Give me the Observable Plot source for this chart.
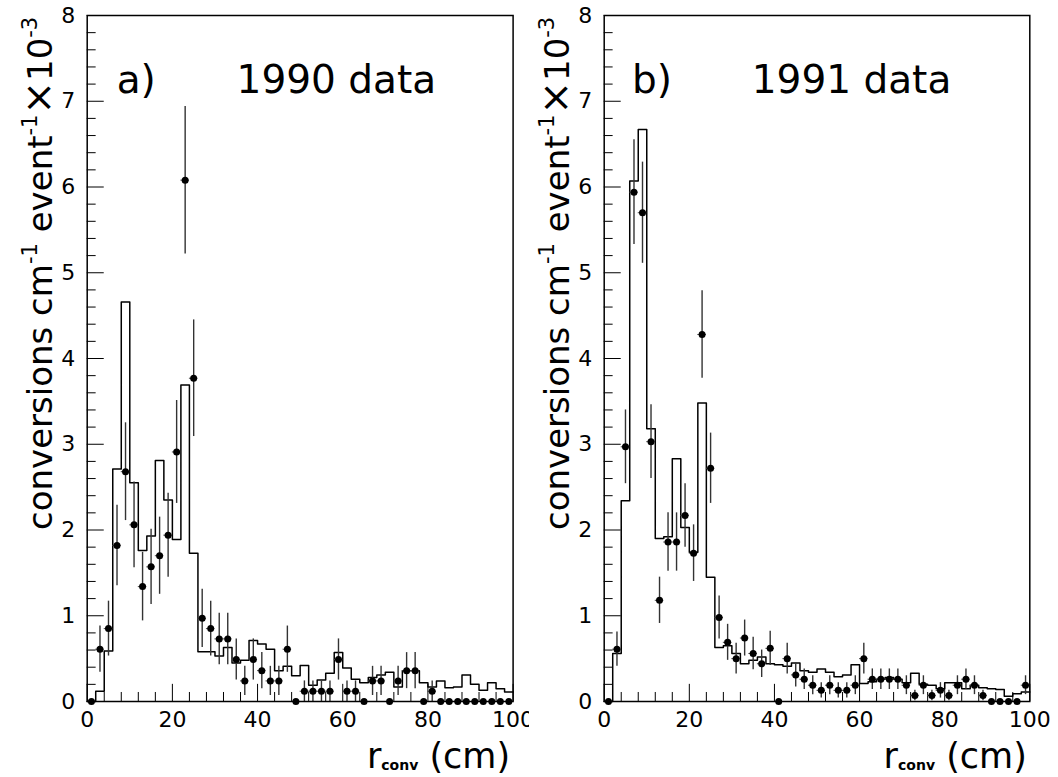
<!DOCTYPE html>
<html><head><meta charset="utf-8">
<script src="https://cdn.jsdelivr.net/npm/d3@7"></script>
<script src="https://cdn.jsdelivr.net/npm/@observablehq/plot@0.6"></script>
<style>
body{margin:0;background:#fff;}
#wrap{position:relative;width:1058px;height:777px;display:flex;background:#fff;}
svg{display:block}
</style></head><body><div id="wrap"></div>
<script>
// radius bin centres (cm), bins are 2 cm wide
const rCentres = [1,3,5,7,9,11,13,15,17,19,21,23,25,27,29,31,33,35,37,39,41,43,45,47,49,
                  51,53,55,57,59,61,63,65,67,69,71,73,75,77,79,81,83,85,87,89,91,93,95,97,99];

// 1990 data points and errors
const data1990 = [0,0.61,0.85,1.82,2.68,2.06,1.34,1.57,1.70,1.94,
                  2.91,6.08,3.77,0.97,0.85,0.73,0.73,0.49,0.24,0.49,
                  0.36,0.24,0.24,0.61,0,0.12,0.12,0.12,0.12,0.49,
                  0.12,0.12,0,0.24,0.24,0,0.24,0.36,0.36,0,
                  0.12,0,0,0,0,0,0,0,0,0];
const err1990 = [0,0.27,0.32,0.47,0.57,0.50,0.40,0.44,0.45,0.49,
                 0.60,0.86,0.68,0.34,0.32,0.30,0.30,0.24,0.17,0.24,
                 0.21,0.17,0.17,0.27,0,0.12,0.12,0.12,0.12,0.24,
                 0.12,0.12,0,0.17,0.17,0,0.17,0.21,0.21,0,
                 0.12,0,0,0,0,0,0,0,0,0];
// 1990 simulation histogram
const mc1990 = [0,0.12,0.59,2.71,4.66,2.55,1.76,1.93,2.81,2.35,
                1.89,3.69,1.73,0.58,0.58,0.53,0.63,0.45,0.48,0.71,
                0.67,0.61,0.36,0.41,0.30,0.42,0.19,0.25,0.33,0.57,
                0.39,0.26,0.22,0.28,0.31,0.34,0.17,0.36,0.36,0.22,
                0.17,0.24,0.16,0.17,0.31,0.20,0.13,0.22,0.15,0.11];

// 1991 data points and errors
const data1991 = [0,0.61,2.97,5.94,5.70,3.03,1.18,1.86,1.86,2.17,
                  1.73,4.28,2.72,0.98,0.69,0.50,0.74,0.56,0.44,0.62,
                  0,0.50,0.31,0.26,0.19,0.13,0.19,0.13,0.13,0.19,
                  0.50,0.26,0.26,0.26,0.26,0.19,0.07,0.19,0.07,0.13,
                  0.07,0.19,0.26,0.19,0.07,0,0,0,0,0.19];
const err1991 = [0,0.20,0.43,0.61,0.59,0.43,0.27,0.34,0.34,0.37,
                 0.33,0.51,0.41,0.25,0.21,0.18,0.21,0.19,0.16,0.20,
                 0,0.18,0.14,0.12,0.11,0.09,0.11,0.09,0.09,0.11,
                 0.18,0.12,0.12,0.12,0.12,0.11,0.06,0.11,0.06,0.09,
                 0.06,0.11,0.12,0.11,0.06,0,0,0,0,0.11];
// 1991 simulation histogram
const mc1991 = [0,0.56,2.34,6.07,6.67,3.18,1.90,1.92,2.83,2.03,
                1.74,3.48,1.45,0.63,0.65,0.56,0.44,0.48,0.52,0.44,
                0.43,0.41,0.45,0.36,0.34,0.38,0.34,0.29,0.31,0.43,
                0.21,0.23,0.26,0.28,0.26,0.22,0.33,0.20,0.19,0.15,
                0.22,0.22,0.15,0.19,0.16,0.15,0.14,0.06,0.09,0.11];

// ticks
const xTicks = [0,20,40,60,80,100];
const xMinor = [4,8,12,16,24,28,32,36,44,48,52,56,64,68,72,76,84,88,92,96];
const yTicks = [0,1,2,3,4,5,6,7,8];
const yMinor = [0.2,0.4,0.6,0.8,1.2,1.4,1.6,1.8,2.2,2.4,2.6,2.8,3.2,3.4,3.6,3.8,
                4.2,4.4,4.6,4.8,5.2,5.4,5.6,5.8,6.2,6.4,6.6,6.8,7.2,7.4,7.6,7.8];

const FONT = "'DejaVu Sans', 'Liberation Sans', sans-serif";

function panel({values, errors, mc, ml, mr, tag, tagX, title, titleX}) {
  const pts = rCentres.map((r, i) => ({r, v: values[i], e: errors[i]}));
  const hist = rCentres.map((r, i) => ({x: r - 1, y: mc[i]}));
  hist.push({x: rCentres[rCentres.length - 1] + 1, y: mc[mc.length - 1]});
  const W = 529, H = 777, mt = 15, mb = 76;
  const plot = Plot.plot({
    width: W, height: H, marginLeft: ml, marginRight: mr, marginTop: mt, marginBottom: mb,
    style: {fontFamily: FONT, fontSize: "22px", color: "black", background: "white", overflow: "visible"},
    x: {domain: [0, 100]},
    y: {domain: [0, 8]},
    marks: [
      Plot.ruleY(yMinor, {y: d => d, x1: 0, x2: 2.1, stroke: "black", strokeWidth: 1}),
      Plot.ruleY(yTicks, {y: d => d, x1: 0, x2: 4, stroke: "black", strokeWidth: 1}),
      Plot.ruleX(xMinor, {x: d => d, y1: 0, y2: 0.105, stroke: "black", strokeWidth: 1}),
      Plot.ruleX(xTicks, {x: d => d, y1: 0, y2: 0.2, stroke: "black", strokeWidth: 1}),
      Plot.line(hist, {x: "x", y: "y", curve: "step-after", stroke: "black", strokeWidth: 1.5}),
      Plot.ruleY(pts.filter(d => d.v > 0), {y: "v", x1: d => d.r - 1, x2: d => d.r + 1, stroke: "#444", strokeWidth: 1}),
      Plot.ruleX(pts.filter(d => d.e > 0), {x: "r", y1: d => d.v - d.e, y2: d => d.v + d.e, stroke: "#333", strokeWidth: 1.4}),
      Plot.dot(pts, {x: "r", y: "v", r: 3.5, fill: "black", stroke: "none"}),
      Plot.frame({stroke: "black", strokeWidth: 1.5}),
      Plot.axisX(xTicks, {tickSize: 0, tickPadding: 10, label: null, fill: "black", tickFormat: d => String(d)}),
      Plot.axisY(yTicks, {tickSize: 0, tickPadding: 12, label: null, fill: "black", tickFormat: d => String(d)})
    ]
  });
  const svg = d3.select(plot);
  const xs = plot.scale("x"), ys = plot.scale("y");
  // panel tag and title
  svg.append("text").attr("x", xs.apply(tagX)).attr("y", ys.apply(7.09)).attr("text-anchor", "start")
    .style("font-family", FONT).style("font-size", "39px").attr("fill", "black").text(tag);
  svg.append("text").attr("x", xs.apply(titleX)).attr("y", ys.apply(7.09)).attr("text-anchor", "start")
    .style("font-family", FONT).style("font-size", "39px").attr("fill", "black").text(title);
  // y axis title
  const yl = svg.append("text").attr("transform", `translate(${ml - 35},530) rotate(-90)`)
    .attr("text-anchor", "start")
    .style("font-family", FONT).style("font-size", "34px").attr("fill", "black");
  yl.append("tspan").text("conversions cm");
  yl.append("tspan").attr("dy", -15).style("font-size", "21px").text("-1");
  yl.append("tspan").attr("dy", 15).text(" event");
  yl.append("tspan").attr("dy", -15).style("font-size", "21px").text("-1");
  yl.append("tspan").attr("dy", 15).style("font-size", "40px").text("\u00d7");
  yl.append("tspan").text("10");
  yl.append("tspan").attr("dy", -15).style("font-size", "21px").text("-3");
  // x axis title
  const xl = svg.append("text").attr("x", W - mr - 2.5).attr("y", 768).attr("text-anchor", "end")
    .style("font-family", FONT).style("font-size", "35px").attr("fill", "black");
  xl.append("tspan").text("r");
  xl.append("tspan").attr("dy", 2).style("font-size", "14px").style("font-weight", "bold").text("conv");
  xl.append("tspan").attr("dy", -2).text(" (cm)");
  return plot;
}

const wrap = document.getElementById("wrap");
wrap.appendChild(panel({values: data1990, errors: err1990, mc: mc1990, ml: 86.7, mr: 16.4,
  tag: "a)", tagX: 7.05, title: "1990 data", titleX: 35.2}));
wrap.appendChild(panel({values: data1991, errors: err1991, mc: mc1991, ml: 74.7, mr: 28.7,
  tag: "b)", tagX: 6.65, title: "1991 data", titleX: 34.8}));
</script>
</body></html>
